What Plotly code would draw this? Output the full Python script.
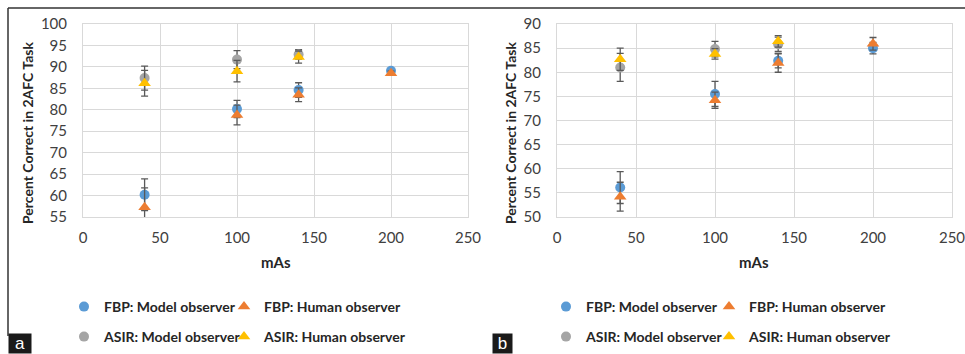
import plotly.graph_objects as go

W, H = 965, 354

# ---------------- data ----------------
mas_fbp = [40, 100, 140, 200]
mas_asir = [40, 100, 140]

# Panel a
a_fbp_model = [60.2, 80.2, 84.6, 89.1]
a_fbp_model_err = [3.7, 2.0, 1.7, 0.5]
a_fbp_human = [57.3, 78.8, 83.5, 88.5]
a_fbp_human_err = [4.5, 2.3, 1.6, 0.5]
a_asir_model = [87.4, 91.7, 92.9]
a_asir_model_err = [2.8, 2.1, 1.1]
a_asir_human = [86.2, 89.0, 92.3]
a_asir_human_err = [3.0, 2.5, 1.4]

# Panel b
b_fbp_model = [56.1, 75.5, 82.4, 85.0]
b_fbp_model_err = [3.3, 2.6, 1.5, 1.2]
b_fbp_human = [54.2, 74.2, 81.9, 85.9]
b_fbp_human_err = [3.0, 1.7, 1.9, 1.3]
b_asir_model = [81.0, 84.8, 85.8]
b_asir_model_err = [2.9, 1.6, 1.5]
b_asir_human = [82.7, 83.8, 86.4]
b_asir_human_err = [2.3, 1.1, 1.2]

names = ["FBP: Model observer", "FBP: Human observer",
         "ASIR: Model observer", "ASIR: Human observer"]
colors = ["#5B9BD5", "#ED7D31", "#A5A5A5", "#FFC000"]
symbols = ["circle", "triangle-up", "circle", "triangle-up"]

x_ticks = [0, 50, 100, 150, 200, 250]
a_y_ticks = [55, 60, 65, 70, 75, 80, 85, 90, 95, 100]
b_y_ticks = [50, 55, 60, 65, 70, 75, 80, 85, 90]

FONT = "Lato"
ERRC = "#595959"

def px_x(p):
    return p / W

def px_y(p):
    return 1 - p / H

fig = go.Figure()

# legend placement (pixel left edge of each legend item, row centre)
leg_left_a = [64, 224, 64, 224]
leg_left_b = [546, 709, 546, 709]
leg_row_y = [307, 307, 337, 337]

panels = [
    ("x", "y", [(mas_fbp, a_fbp_model, a_fbp_model_err),
                (mas_fbp, a_fbp_human, a_fbp_human_err),
                (mas_asir, a_asir_model, a_asir_model_err),
                (mas_asir, a_asir_human, a_asir_human_err)], leg_left_a, 0),
    ("x2", "y2", [(mas_fbp, b_fbp_model, b_fbp_model_err),
                  (mas_fbp, b_fbp_human, b_fbp_human_err),
                  (mas_asir, b_asir_model, b_asir_model_err),
                  (mas_asir, b_asir_human, b_asir_human_err)], leg_left_b, 4),
]

leg_common = dict(orientation="h", xanchor="left", yanchor="middle",
                  bgcolor="rgba(0,0,0,0)", borderwidth=0,
                  font=dict(family=FONT, size=14, color="#262626", weight="bold"),
                  itemwidth=30, tracegroupgap=0)
legends = {}

for xa, ya, series, lefts, off in panels:
    for i, (xs, ys, es) in enumerate(series):
        k = off + i + 1
        lid = "legend" if k == 1 else f"legend{k}"
        legends[lid] = dict(x=px_x(lefts[i]), y=px_y(leg_row_y[i]), **leg_common)
        fig.add_trace(go.Scatter(
            x=xs, y=ys, mode="markers", name=names[i],
            xaxis=xa, yaxis=ya, legend=lid,
            marker=dict(color=colors[i], symbol=symbols[i],
                        size=10 if symbols[i] == "circle" else 11,
                        line=dict(width=0)),
            error_y=dict(type="data", array=es, visible=True,
                         color=ERRC, thickness=1.3, width=3.5),
            cliponaxis=True,
        ))

axis_common = dict(
    showgrid=True, gridcolor="#D9D9D9", gridwidth=1,
    showline=True, linecolor="#D9D9D9", mirror=True,
    zeroline=False, ticks="", automargin=False, ticklabeloverflow="allow",
    tickfont=dict(family=FONT, size=15, color="#404040"),
)

fig.update_layout(
    template="none",
    width=W, height=H,
    margin=dict(l=0, r=0, t=0, b=0, autoexpand=False),
    paper_bgcolor="white", plot_bgcolor="white",
    font=dict(family=FONT),
    showlegend=True,
    xaxis=dict(domain=[px_x(83), px_x(468)], range=[0, 250],
               tickvals=x_ticks, anchor="y", ticklabelstandoff=7, **axis_common),
    yaxis=dict(domain=[px_y(217), px_y(24)], range=[55, 100],
               tickvals=a_y_ticks, anchor="x", ticklabelstandoff=12, **axis_common),
    xaxis2=dict(domain=[px_x(557), px_x(952)], range=[0, 250],
                tickvals=x_ticks, anchor="y2", ticklabelstandoff=7, **axis_common),
    yaxis2=dict(domain=[px_y(217), px_y(24)], range=[50, 90],
                tickvals=b_y_ticks, anchor="x2", ticklabelstandoff=12, **axis_common),
    **legends,
)

title_font = dict(family=FONT, size=14, color="#262626", weight="bold")
ann = [
    dict(text="Percent Correct in 2AFC Task", x=px_x(27), y=px_y(133),
         textangle=-90, font=title_font),
    dict(text="Percent Correct in 2AFC Task", x=px_x(510), y=px_y(133),
         textangle=-90, font=title_font),
    dict(text="mAs", x=px_x(276), y=px_y(262),
         font=dict(family=FONT, size=15, color="#262626", weight="bold")),
    dict(text="mAs", x=px_x(754), y=px_y(262),
         font=dict(family=FONT, size=15, color="#262626", weight="bold")),
]
for a in ann:
    a.update(xref="paper", yref="paper", showarrow=False,
             xanchor="center", yanchor="middle")
    fig.add_annotation(**a)

# panel labels
for lbl, xc in [("a", 19.5), ("b", 502.5)]:
    fig.add_annotation(text=lbl, x=px_x(xc), y=0, xref="paper", yref="paper",
                       xanchor="center", yanchor="bottom", showarrow=False,
                       bgcolor="#1a1a1a", borderpad=1,
                       font=dict(family="Liberation Sans", size=17, color="white"),
                       width=20 if lbl == "a" else 17, height=17)

# frame lines
fig.add_shape(type="line", xref="paper", yref="paper",
              x0=px_x(8), x1=1, y0=px_y(8), y1=px_y(8),
              line=dict(color="#333333", width=1.5))
fig.add_shape(type="line", xref="paper", yref="paper",
              x0=px_x(8), x1=px_x(8), y0=px_y(8), y1=px_y(336),
              line=dict(color="#333333", width=1.5))

fig.write_html("out.html",
               config={"displayModeBar": False},
               post_script="document.body.style.margin='0';document.body.style.overflow='hidden';")
